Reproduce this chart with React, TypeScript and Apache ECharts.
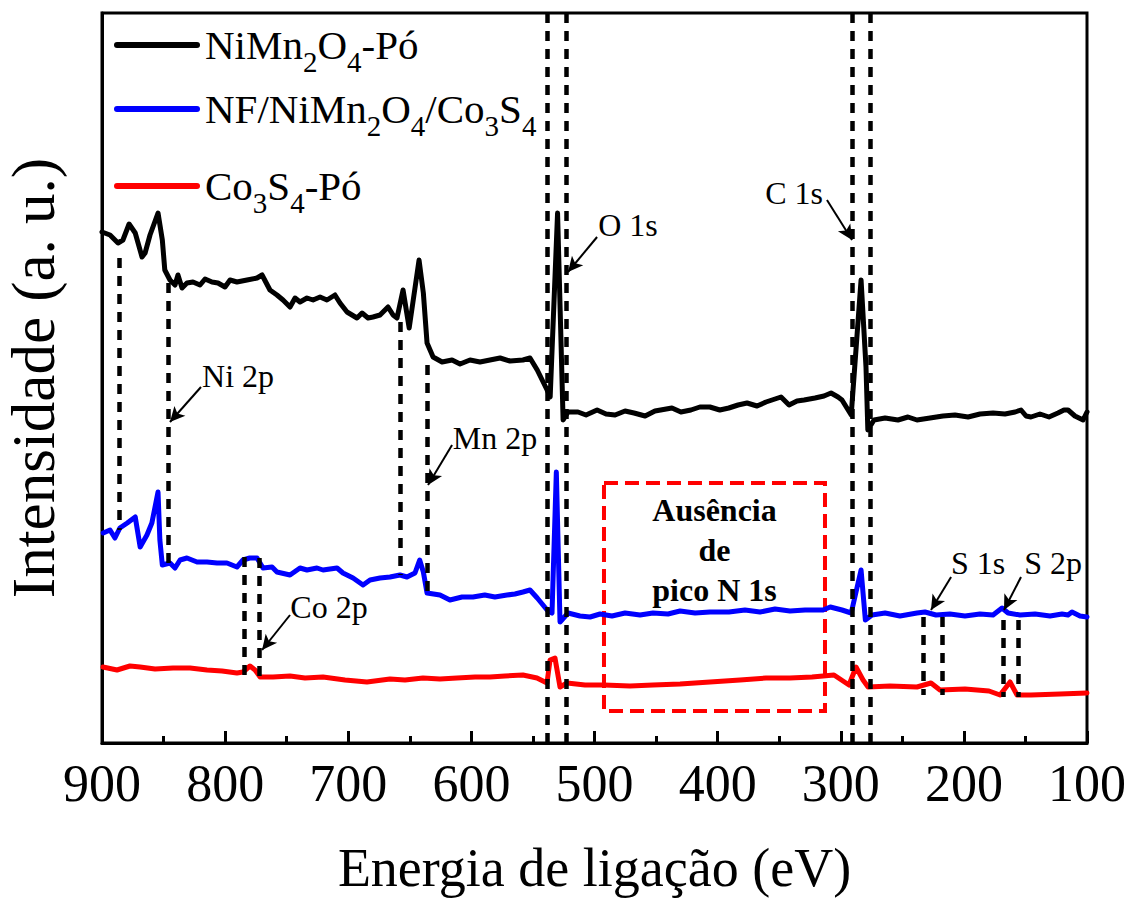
import React, { useEffect, useRef } from "react";
import * as echarts from "echarts";

const FONT = "Liberation Serif, Times New Roman, Times, serif";

// X axis (binding energy, eV), drawn inverted
const xMin = 100;
const xMax = 900;
const xStep = 100;

// NiMn2O4-Pó (black)
const niMnEnergy = [900, 893.5, 887, 883, 878, 873, 867.5, 865, 861, 854.5, 851, 849,
  844.8, 840.7, 838.3, 835.0, 831.0, 826.1, 820.4, 816.3, 810.7, 805.8, 800.1, 796.0, 790.4, 782.2, 774.1, 770.0,
  763.6, 757.9, 753.0, 747.3, 743.2, 739.2, 733.5, 728.6, 722.9, 717.3, 710.8, 706.7, 701.0, 692.9, 688.8, 683.9, 679.9, 674.2, 667.7, 663.6, 660.4,
  655.5, 650.5, 642.5, 639, 636,
  631.1, 623.8, 615.7, 609.2, 601.1, 593.0, 584.9, 576.7, 568.6, 558.1, 552.4,
  546.5, 538.5, 536, 530, 525.5, 521.5,
  513.4, 506.9, 497.9, 490.6, 483.3, 475.2, 467.9, 458.9, 450.9, 437.1, 429.8, 421.7, 414.4, 406.3, 398.2, 390.9, 383.4, 376.1, 368.0, 360.7, 353.4, 348.5, 342.0, 335.5, 329.8, 320.9, 313.6, 307.9, 302.2, 299.0,
  291.5, 283.5, 279.5, 278,
  273.0, 264.0, 253.5, 245.4, 238.1, 227.5, 217.0, 207.2, 196.6, 186.9, 176.3, 166.6, 158.4, 153.6, 149.5, 145.5, 138.2, 130.9, 123.6, 118.7, 115.4, 109.8, 103.2, 100];
const niMnIntensity = [511, 508, 500, 503, 519, 510, 486, 490, 508, 530, 503, 473,
  463, 458, 468, 455, 460, 461, 458, 464, 461, 460, 456, 463, 461, 463, 465, 468,
  453, 448, 443, 436, 445, 441, 445, 443, 446, 443, 448, 440, 431, 425, 430, 425, 426, 428, 436, 428, 425,
  453, 415, 483, 450, 400,
  386, 381, 383, 379, 383, 381, 383, 385, 382, 383, 385,
  373, 353, 346, 530, 323, 331,
  331, 328, 333, 329, 328, 332, 330, 327, 332, 335, 331, 333, 336, 336, 333, 335, 338, 340, 337, 341, 344, 346, 338, 342, 343, 345, 347, 350, 346, 343,
  328, 463, 376, 313,
  323, 325, 323, 326, 323, 325, 327, 328, 326, 329, 330, 329, 331, 333, 327, 326, 329, 326, 330, 333, 333, 327, 323, 331];

// NF/NiMn2O4/Co3S4 (blue)
const nfEnergy = [899, 893.5, 889.5, 885.5, 879.5, 873, 869, 863.5, 859.5, 854.5, 853, 851,
  844.8, 840.7, 836.6, 831.0, 822.8, 814.7, 806.6, 798.5, 790.4, 785.5, 780, 774.1, 769.2, 761.9, 757.9, 747.3, 739.2, 733.5, 725.4, 720.5, 709.1, 704.3, 696.1, 688.0, 682.3, 674.2, 666.1, 658.0, 652.3, 645.8,
  642, 639, 636,
  625.5, 617.4, 607.6, 598.7, 589.1, 580.9, 571.1, 564.6, 558.1, 552.4,
  546.5, 538.5, 534.5, 531, 528,
  521.5, 511.8, 503.6, 495.5, 485.8, 475.2, 463.0, 452.5, 440.3, 430.5, 418.3, 406.2, 390.8, 377.8, 365.6, 353.4, 341.2, 329.0, 314.4,
  308.5, 299, 291.5, 283.5, 280,
  274.6, 264.0, 251.9, 238.1, 231.6, 222.6, 211.3, 199.1, 186.9, 176.3, 169.0, 164.1, 154.4, 142.2, 130.0, 120.3, 115.4, 112.2, 105.7, 100];
const nfIntensity = [210, 213, 205, 215, 220, 226, 196, 208, 220, 251, 203, 178,
  180, 175, 183, 185, 181, 181, 180, 180, 176, 183, 185, 185, 175, 176, 171, 168, 175, 173, 175, 173, 175, 170, 165, 158, 163, 165, 166, 168, 166, 170,
  183, 171, 150,
  148, 143, 146, 146, 148, 146, 148, 149, 151, 153,
  145, 133, 130, 271, 121,
  130, 127, 126, 129, 127, 130, 128, 130, 129, 132, 130, 131, 131, 133, 131, 134, 132, 133, 133,
  136, 133, 130, 173, 123,
  128, 130, 127, 130, 131, 128, 129, 127, 129, 128, 135, 130, 128, 129, 127, 129, 128, 131, 127, 126];

// Co3S4-Pó (red)
const coEnergy = [899.2, 887.8, 877.3, 869.1, 856.9, 842.3, 828.5, 814.7, 802.5, 790.4, 785.5, 779.8, 775.7, 771.6, 761.1, 747.3, 735.1, 720.5, 702.6, 684.8, 666.1, 653.9, 639.3, 625.5, 611.7, 597.0, 584.9, 572.7, 558.1, 546.7, 538.6, 536.1, 532.1, 528.0, 522.3, 507.7, 492.3, 471.2, 452.5, 430.5, 406.2, 381.8, 360.7, 341.2, 323.3, 305.5, 293.3, 287.6, 281.9, 277.8, 260.0, 238.1, 226.7, 219.4, 199.1, 179.6, 170.6, 162.5, 156.8, 145.5, 121.9, 100];
const coIntensity = [76, 73, 77, 76, 74, 75, 75, 73, 72, 70, 71, 77, 73, 66, 66, 67, 65, 66, 63, 61, 64, 63, 65, 64, 65, 66, 66, 67, 68, 65, 60, 83, 85, 56, 60, 58, 58, 57, 58, 59, 61, 63, 65, 65, 66, 68, 58, 76, 63, 56, 57, 56, 60, 53, 54, 52, 48, 61, 48, 48, 49, 50];

// Dashed guide lines: [energy, upper intensity, lower intensity]
const guideLines = [
  [886.2, 485, 213], [846.4, 460, 180],
  [658, 421, 168], [636, 378, 148],
  [784.7, 186, 66], [772.5, 185, 65],
  [538.6, 730, 0], [523.1, 730, 0],
  [290.9, 730, 0], [276.2, 730, 0],
  [233.2, 126, 48], [217.8, 126, 48],
  [168.2, 123, 46], [156, 123, 46],
];

// Peak labels with arrows (data coordinates)
const peakNames = ["Ni 2p", "Mn 2p", "Co 2p", "O 1s", "C 1s", "S 1s", "S 2p"];
const peakLabelAt = [[789.5, 367], [580.8, 305], [715.6, 136], [472.8, 518], [337.9, 550], [188.5, 180], [127.6, 180]];
const arrowFrom = [[819.6, 356], [615.7, 298], [747.3, 128], [497.9, 506], [311.2, 543], [210.4, 166], [153.6, 166]];
const arrowTo = [[844.8, 321], [635.2, 258], [770, 93], [521.5, 471], [290.8, 503], [226.7, 133], [167.4, 133]];

// Region without N 1s peak
const noPeakBox = [[492.3, 260], [312.8, 32]];

const pairs = (xs: number[], ys: number[]) => xs.map((x, i) => [x, ys[i]]);

export default function App() {
  const ref = useRef<HTMLDivElement>(null);

  useEffect(() => {
    const chart = echarts.init(ref.current as HTMLDivElement, null, { renderer: "svg" });

    const fs = 41;
    const rich = {
      m: { fontFamily: FONT, fontSize: fs, lineHeight: fs, verticalAlign: "top", fill: "#000", color: "#000" },
      s: { fontFamily: FONT, fontSize: 29, lineHeight: 2 * (fs / 2 + 17), verticalAlign: "middle", fill: "#000", color: "#000" },
    };

    const legendItems = [
      { y: 45, color: "#000000", text: "{m|NiMn}{s|2}{m|O}{s|4}{m|-Pó}" },
      { y: 109, color: "#0000FF", text: "{m|NF/NiMn}{s|2}{m|O}{s|4}{m|/Co}{s|3}{m|S}{s|4}" },
      { y: 186, color: "#FF0000", text: "{m|Co}{s|3}{m|S}{s|4}{m|-Pó}" },
    ];

    const graphic: any[] = [];
    legendItems.forEach((it) => {
      graphic.push({
        type: "line",
        shape: { x1: 117, y1: it.y, x2: 197, y2: it.y },
        style: { stroke: it.color, lineWidth: 6, lineCap: "round" },
        z: 100,
      });
      graphic.push({
        type: "text",
        x: 205,
        y: it.y - fs / 2,
        style: { text: it.text, rich, verticalAlign: "top", align: "left", fill: "#000" },
        z: 100,
      });
    });

    const lineSeries = (name: string, color: string, data: number[][]) => ({
      name,
      type: "line",
      data,
      showSymbol: false,
      symbol: "none",
      lineStyle: { color, width: 5, join: "round", cap: "round" },
      itemStyle: { color },
      z: 2,
    });

    const option: any = {
      animation: false,
      backgroundColor: "#ffffff",
      grid: {
        left: 102, right: 44, top: 13, bottom: 157,
        containLabel: false, outerBoundsMode: "none",
        show: true, borderColor: "#000", borderWidth: 3, backgroundColor: "transparent",
      },
      xAxis: {
        type: "value",
        min: xMin,
        max: xMax,
        interval: xStep,
        inverse: true,
        name: "Energia de ligação (eV)",
        nameLocation: "middle",
        nameGap: 98,
        nameTextStyle: { fontFamily: FONT, fontSize: 54, color: "#000" },
        axisLine: { show: true, onZero: false, lineStyle: { color: "#000", width: 3 } },
        axisTick: { show: true, inside: true, length: 12, lineStyle: { color: "#000", width: 3 } },
        minorTick: { show: true, splitNumber: 2, length: 7, lineStyle: { color: "#000", width: 3 } },
        axisLabel: { fontFamily: FONT, fontSize: 52, color: "#000", margin: 14 },
        splitLine: { show: false },
        minorSplitLine: { show: false },
      },
      yAxis: {
        type: "value",
        min: 0,
        max: 730,
        name: "Intensidade (a. u.)",
        nameLocation: "middle",
        nameGap: 38,
        nameRotate: 90,
        nameTextStyle: { fontFamily: FONT, fontSize: 61, color: "#000" },
        axisLine: { show: true, lineStyle: { color: "#000", width: 3 } },
        axisTick: { show: false },
        axisLabel: { show: false },
        splitLine: { show: false },
      },
      series: [
        lineSeries("NiMn2O4-Pó", "#000000", pairs(niMnEnergy, niMnIntensity)),
        lineSeries("NF/NiMn2O4/Co3S4", "#0000FF", pairs(nfEnergy, nfIntensity)),
        lineSeries("Co3S4-Pó", "#FF0000", pairs(coEnergy, coIntensity)),
        {
          name: "guides",
          type: "line",
          data: [],
          z: 5,
          silent: true,
          markLine: {
            silent: true,
            symbol: ["none", "none"],
            lineStyle: { type: [10, 8], width: 4.5, color: "#000" },
            label: { show: false },
            emphasis: { disabled: true },
            data: guideLines.map(([x, y1, y2]) => [{ coord: [x, y1] }, { coord: [x, y2] }]),
          },
          markArea: {
            silent: true,
            itemStyle: { color: "rgba(0,0,0,0)", borderColor: "#FF0000", borderWidth: 4, borderType: [14, 7] },
            label: {
              show: true,
              position: "insideTop",
              distance: 9,
              formatter: "Ausência\nde\npico N 1s",
              fontFamily: FONT,
              fontWeight: "bold",
              fontSize: 32,
              lineHeight: 40,
              color: "#000",
              align: "center",
            },
            emphasis: { disabled: true },
            data: [[{ coord: noPeakBox[0] }, { coord: noPeakBox[1] }]],
          },
        },
        {
          name: "arrows",
          type: "line",
          data: [],
          z: 6,
          silent: true,
          markLine: {
            silent: true,
            symbol: ["none", "arrow"],
            symbolSize: [11, 15],
            lineStyle: { type: "solid", width: 2, color: "#000" },
            label: { show: false },
            emphasis: { disabled: true },
            data: arrowFrom.map((f, i) => [{ coord: f }, { coord: arrowTo[i] }]),
          },
          markPoint: {
            silent: true,
            symbol: "rect",
            symbolSize: 1,
            itemStyle: { color: "rgba(0,0,0,0)" },
            label: { show: true, position: "inside", formatter: "{b}", fontFamily: FONT, fontSize: 32, color: "#000" },
            emphasis: { disabled: true },
            data: peakNames.map((n, i) => ({ name: n, coord: peakLabelAt[i] })),
          },
        },
      ],
      graphic,
    };

    chart.setOption(option);
    return () => chart.dispose();
  }, []);

  return <div ref={ref} style={{ position: "fixed", left: 0, top: 0, width: 1131, height: 900, background: "#fff" }} />;
}
